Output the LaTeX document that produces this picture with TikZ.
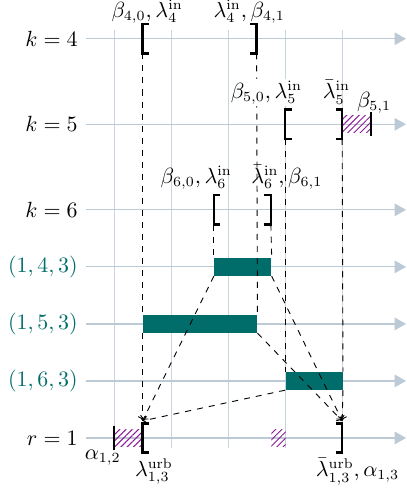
\documentclass[tikz,border=0pt]{standalone}
\usepackage{amsmath}
\usepackage{xcolor}
\usepackage{tikz}
\usetikzlibrary{arrows.meta, patterns.meta}

\definecolor{axisblue}{HTML}{BCCAD6}
\definecolor{gridblue}{HTML}{C8D4DE}
\definecolor{barteal}{HTML}{006D6A}
\definecolor{hatchviolet}{HTML}{8A1A96}

\begin{document}
\begin{tikzpicture}[
    font=\fontsize{10.6}{12.7}\selectfont,
    grid/.style={gridblue, line width=0.5pt},
    axis/.style={axisblue, line width=0.6pt, -{Triangle[length=2mm, width=2.2mm]}},
    rowlab/.style={anchor=east, inner sep=0pt},
    tup/.style={rowlab, text=barteal},
    brk/.style={inner sep=0pt, minimum width=1mm, minimum height=5mm},
    lbrk/.style={brk, anchor=west, append after command={\pgfextra{
        \draw[line width=1.3pt] (\tikzlastnode.north east) -- (\tikzlastnode.north west)
          -- (\tikzlastnode.south west) -- (\tikzlastnode.south east);}}},
    rbrk/.style={brk, anchor=east, append after command={\pgfextra{
        \draw[line width=1.3pt] (\tikzlastnode.north west) -- (\tikzlastnode.north east)
          -- (\tikzlastnode.south east) -- (\tikzlastnode.south west);}}},
    tick/.style={inner sep=0pt, minimum width=0pt, minimum height=4mm, append after command={\pgfextra{
        \draw[line width=0.9pt] (\tikzlastnode.north) -- (\tikzlastnode.south);}}},
    bar/.style={fill=barteal, inner sep=0pt, minimum height=3.1mm, anchor=west},
    hatch/.style={pattern={Lines[angle=45, distance=2.2pt, line width=0.5pt]},
                  pattern color=hatchviolet, inner sep=0pt, minimum height=3mm, anchor=west},
    lab/.style={inner sep=1pt},
    link/.style={dashed, line width=0.45pt},
    conv/.style={link, -{To[length=0.8mm, width=1.6mm]}}
]
\useasboundingbox (-2,-0.965) rectangle (5.12,7.68);

% grid and axes
\foreach \x in {0,...,4}
  \draw[grid] (\x,-0.18) -- (\x,7.16);

\foreach \y/\n/\t/\s in {7/k4/{$k=4$}/rowlab, 5.5/k5/{$k=5$}/rowlab, 4/k6/{$k=6$}/rowlab,
                         3/t143/{$(1,4,3)$}/tup, 2/t153/{$(1,5,3)$}/tup, 1/t163/{$(1,6,3)$}/tup,
                         0/r1/{$r=1$}/rowlab}
{
  \node[\s] (row\n) at (-0.63,\y) {\t};
  \draw[axis] (-0.5,\y) -- (5.12,\y);
}

% intervals
\node[bar, minimum width=1cm] (b143) at (1.75,3) {};
\node[bar, minimum width=2cm] (b153) at (0.5,2) {};
\node[bar, minimum width=1cm] (b163) at (3,1) {};

\node[hatch, minimum width=5mm]   (h51)  at (4,5.5)  {};
\node[hatch, minimum width=5mm]   (h12)  at (0,0)    {};
\node[hatch, minimum width=2.5mm] (h1m)  at (2.75,0) {};

\node[lbrk] (k4l) at (0.5,7)   {};
\node[rbrk] (k4r) at (2.5,7)   {};
\node[lbrk] (k5l) at (3,5.5)   {};
\node[rbrk] (k5r) at (4,5.5)   {};
\node[lbrk] (k6l) at (1.75,4)  {};
\node[rbrk] (k6r) at (2.75,4)  {};
\node[lbrk] (r1l) at (0.5,0)   {};
\node[rbrk] (r1r) at (4,0)     {};
\node[tick] (t51) at (4.5,5.5) {};
\node[tick] (t12) at (0,0)     {};

\coordinate (m1) at (0.5,0.3);
\coordinate (m2) at (4,0.3);

% connectors
\foreach \a/\b in {k4l.south west/b153.north west, k4r.south east/b153.north east,
                   k5l.south west/b163.north west, k5r.south east/b163.north east,
                   k6l.south west/b143.north west, k6r.south east/b143.north east}
  \draw[link] (\a) -- (\b);

\foreach \a in {b143, b153, b163} {
  \draw[conv] (\a.south west) -- (m1);
  \draw[conv] (\a.south east) -- (m2);
}

% labels
\node[lab]             (l40)  at (0.58,7.48)  {$\beta_{4,0},\lambda_4^{\mathrm{in}}$};
\node[lab]             (l41)  at (2.37,7.48)  {$\lambda_4^{\mathrm{in}},\beta_{4,1}$};
\node[lab, fill=white] (l50)  at (2.67,6.06)  {$\beta_{5,0},\lambda_5^{\mathrm{in}}$};
\node[lab]             (l5b)  at (3.9,6.06)   {$\bar\lambda_5^{\mathrm{in}}$};
\node[lab]             (l51)  at (4.56,5.88)  {$\beta_{5,1}$};
\node[lab]             (l60)  at (1.44,4.57)  {$\beta_{6,0},\lambda_6^{\mathrm{in}}$};
\node[lab]             (l61)  at (3.03,4.57)  {$\bar\lambda_6^{\mathrm{in}},\beta_{6,1}$};
\node[lab]             (la12) at (-0.2,-0.35) {$\alpha_{1,2}$};
\node[lab]             (lu)   at (0.7,-0.59)  {$\lambda_{1,3}^{\mathrm{urb}}$};
\node[lab]             (lub)  at (4.27,-0.59) {$\bar\lambda_{1,3}^{\mathrm{urb}},\alpha_{1,3}$};
\end{tikzpicture}
\end{document}
